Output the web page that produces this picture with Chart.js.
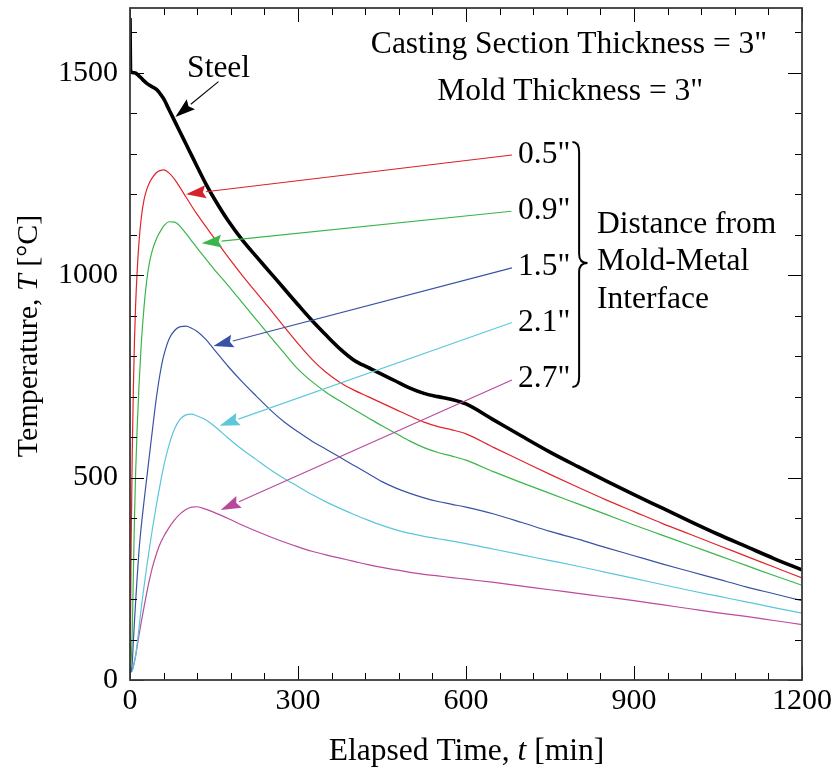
<!DOCTYPE html>
<html><head><meta charset="utf-8">
<script src="https://cdn.jsdelivr.net/npm/chart.js@4.4.0/dist/chart.umd.min.js"></script>
<style>html,body{margin:0;padding:0;background:#fff;}#wrap{width:836px;height:772px;}</style>
</head><body><div id="wrap"><canvas id="c" width="836" height="772"></canvas></div>
<script>
// ---- data (elapsed time in min, temperature in °C) ----
const timeMin = [0,1,2,4,6,8,10,13,16,20,25,30,35,40,45,50,55,60,70,80,90,100,110,120,135,150,175,200,225,250,275,300,325,350,375,400,425,450,475,500,525,550,575,600,650,700,750,800,850,900,950,1000,1050,1100,1150,1200];
const steelT = [1635,1505,1502,1501,1500,1500,1499,1496,1492,1487,1480,1474,1469,1465,1461,1455,1446,1436,1408,1380,1352,1324,1296,1268,1227,1190,1135,1088,1047,1007,967,927,888,852,818,790,772,755,738,721,708,700,693,682,642,602,563,527,492,458,425,392,360,330,300,272];
const mold05 = [20,150,330,560,720,840,925,1015,1080,1140,1186,1212,1229,1241,1250,1256,1259,1260,1252,1236,1215,1193,1171,1150,1121,1092,1045,1000,958,916,873,831,792,760,735,716,700,684,668,652,637,626,618,608,574,541,508,476,445,416,387,360,333,306,279,252];
const mold09 = [20,25,45,120,260,400,510,630,725,828,920,988,1033,1062,1082,1098,1110,1121,1132,1131,1120,1103,1085,1067,1041,1015,975,933,891,849,808,768,737,711,689,668,648,628,609,590,574,562,553,543,514,487,461,435,409,383,358,333,308,283,258,234];
const mold15 = [20,20,22,42,95,145,192,258,318,378,441,500,559,617,675,725,767,800,843,864,873,874,869,861,842,817,775,737,702,668,638,613,590,570,550,530,510,490,474,461,450,441,434,427,410,389,367,348,327,307,287,268,249,230,213,196];
const mold21 = [20,20,20,22,33,45,58,92,128,177,230,281,328,373,415,455,492,527,582,622,645,655,657,652,643,628,598,570,545,520,498,478,458,440,424,409,395,382,371,362,355,349,343,337,323,309,295,281,266,251,236,221,207,193,179,165];
const mold27 = [20,20,20,24,33,46,60,85,110,142,180,216,249,278,302,323,340,354,377,396,411,421,427,428,422,414,399,383,368,354,341,329,318,309,301,293,285,278,272,266,261,257,253,249,241,232,223,214,205,196,186,176,166,157,147,137];
const seriesNames = ['Steel','0.5"','0.9"','1.5"','2.1"','2.7"'];
const xTickValues = [0,300,600,900,1200];
const yTickValues = [0,500,1000,1500];
const xMinorStep = 60;
const yMinorStep = 100;

const colors = ['#000000','#e0242a','#3bb54a','#3953a4','#5bc6da','#b94c9c'];
const seriesData = [steelT, mold05, mold09, mold15, mold21, mold27];

const FONT = "'Liberation Serif', 'Times New Roman', serif";

const datasets = seriesData.map((vals, i) => ({
  label: seriesNames[i],
  data: timeMin.map((t, k) => ({x: t, y: vals[k]})),
  borderColor: colors[i],
  borderWidth: i === 0 ? 3.6 : 1.2,
  pointRadius: 0,
  fill: false,
  cubicInterpolationMode: 'monotone',
  tension: 0
}));

// annotation layout (in data units)
const arrowDefs = [
  {from:[158,1478], to:[81,1391], color:'#000000'},
  {from:[682,1297], to:[100,1200], color:'#d7222a'},
  {from:[681,1158], to:[128,1079], color:'#39b54a'},
  {from:[682,1018], to:[149,825], color:'#3953a4'},
  {from:[682,883],  to:[160,628], color:'#5ec8da'},
  {from:[682,741],  to:[162,420], color:'#b8489b'}
];
const textDefs = [
  {s:'Casting Section Thickness = 3"', t:784, T:1548, align:'center'},
  {s:'Mold Thickness = 3"', t:786, T:1432, align:'center'},
  {s:'0.5"', t:693, T:1277, align:'left'},
  {s:'0.9"', t:693, T:1139, align:'left'},
  {s:'1.5"', t:693, T:1001, align:'left'},
  {s:'2.1"', t:693, T:863, align:'left'},
  {s:'2.7"', t:693, T:724, align:'left'},
  {s:'Distance from', t:834, T:1104, align:'left'},
  {s:'Mold-Metal', t:834, T:1012, align:'left'},
  {s:'Interface', t:834, T:919, align:'left'},
  {s:'Steel', t:102, T:1489, align:'left'}
];

function mixedText(ctx, parts, size) {
  let w = 0;
  parts.forEach(p => { ctx.font = (p[1] ? 'italic ' : '') + size + 'px ' + FONT; w += ctx.measureText(p[0]).width; });
  let x = -w / 2;
  ctx.textAlign = 'left';
  parts.forEach(p => { ctx.font = (p[1] ? 'italic ' : '') + size + 'px ' + FONT; ctx.fillText(p[0], x, 0); x += ctx.measureText(p[0]).width; });
}

const decor = {
  id: 'decor',
  afterDraw(chart) {
    const {ctx, chartArea: a, scales: {x, y}} = chart;
    const px = v => x.getPixelForValue(v), py = v => y.getPixelForValue(v);
    ctx.save();
    // inward ticks
    ctx.strokeStyle = '#000'; ctx.lineWidth = 1;
    ctx.beginPath();
    for (let v = 0; v <= x.max + 0.001; v += xMinorStep) {
      const X = Math.round(px(v)) + 0.5;
      const L = xTickValues.includes(v) ? 14 : 7;
      ctx.moveTo(X, a.bottom); ctx.lineTo(X, a.bottom - L);
      ctx.moveTo(X, a.top); ctx.lineTo(X, a.top + L);
    }
    for (let v = 0; v <= y.max + 0.001; v += yMinorStep) {
      const Y = Math.round(py(v)) + 0.5;
      const L = yTickValues.includes(v) ? 14 : 7;
      ctx.moveTo(a.left, Y); ctx.lineTo(a.left + L, Y);
      ctx.moveTo(a.right, Y); ctx.lineTo(a.right - L, Y);
    }
    ctx.stroke();
    // frame
    ctx.strokeStyle = '#3a3a3a'; ctx.lineWidth = 1.8;
    ctx.strokeRect(a.left, a.top, a.right - a.left, a.bottom - a.top);

    // arrows
    arrowDefs.forEach(d => {
      const x1 = px(d.from[0]), y1 = py(d.from[1]), x2 = px(d.to[0]), y2 = py(d.to[1]);
      const ang = Math.atan2(y2 - y1, x2 - x1);
      const len = 20, hw = 6.5;
      const bx = x2 - len * Math.cos(ang), by = y2 - len * Math.sin(ang);
      ctx.strokeStyle = d.color; ctx.fillStyle = d.color; ctx.lineWidth = 1.1;
      ctx.beginPath(); ctx.moveTo(x1, y1); ctx.lineTo(bx, by); ctx.stroke();
      ctx.beginPath();
      ctx.moveTo(x2, y2);
      ctx.lineTo(bx + hw * Math.sin(ang), by - hw * Math.cos(ang));
      ctx.lineTo(bx + 3 * Math.cos(ang), by + 3 * Math.sin(ang));
      ctx.lineTo(bx - hw * Math.sin(ang), by + hw * Math.cos(ang));
      ctx.closePath(); ctx.fill();
    });

    // texts
    ctx.fillStyle = '#000'; ctx.textBaseline = 'alphabetic';
    ctx.font = '31.5px ' + FONT;
    textDefs.forEach(d => { ctx.textAlign = d.align; ctx.fillText(d.s, px(d.t), py(d.T)); });

    // brace
    const x0 = px(790), xs = px(802), xt = px(817), yT = py(1329), yM = py(1030), yB = py(724);
    ctx.strokeStyle = '#000'; ctx.lineWidth = 2;
    ctx.beginPath();
    ctx.moveTo(x0, yT);
    ctx.quadraticCurveTo(xs, yT, xs, yT + 10);
    ctx.lineTo(xs, yM - 9);
    ctx.quadraticCurveTo(xs, yM, xt, yM);
    ctx.quadraticCurveTo(xs, yM, xs, yM + 9);
    ctx.lineTo(xs, yB - 10);
    ctx.quadraticCurveTo(xs, yB, x0, yB);
    ctx.stroke();

    // axis titles
    ctx.fillStyle = '#000'; ctx.textBaseline = 'alphabetic';
    ctx.save();
    ctx.translate((a.left + a.right) / 2 + 0.5, 760);
    mixedText(ctx, [['Elapsed Time, ', false], ['t', true], [' [min]', false]], 31.5);
    ctx.restore();
    ctx.save();
    ctx.translate(37, (a.top + a.bottom) / 2 - 8);
    ctx.rotate(-Math.PI / 2);
    mixedText(ctx, [['Temperature, ', false], ['T', true], [' [°C]', false]], 30);
    ctx.restore();
    ctx.restore();
  }
};

new Chart(document.getElementById('c'), {
  type: 'line',
  data: {datasets},
  options: {
    responsive: false,
    animation: false,
    devicePixelRatio: 1,
    layout: {padding: {left: 0, right: 34, top: 8, bottom: 0}},
    plugins: {legend: {display: false}, tooltip: {enabled: false}},
    scales: {
      x: {
        type: 'linear', min: 0, max: 1200,
        afterBuildTicks: s => { s.ticks = xTickValues.map(v => ({value: v})); },
        afterFit: s => { s.height = 92; s.paddingLeft = 0; s.paddingRight = 0; },
        ticks: {font: {family: FONT, size: 30}, color: '#000', padding: 3, maxRotation: 0, autoSkip: false, callback: v => String(v)},
        grid: {display: false, drawTicks: false},
        border: {display: false}
      },
      y: {
        type: 'linear', min: 0, max: 1660,
        afterBuildTicks: s => { s.ticks = yTickValues.map(v => ({value: v})); },
        afterFit: s => { s.width = 130; s.paddingTop = 0; s.paddingBottom = 0; },
        ticks: {font: {family: FONT, size: 30}, color: '#000', padding: 12, autoSkip: false, callback: v => String(v)},
        grid: {display: false, drawTicks: false},
        border: {display: false}
      }
    }
  },
  plugins: [decor]
});
</script>
</body></html>
